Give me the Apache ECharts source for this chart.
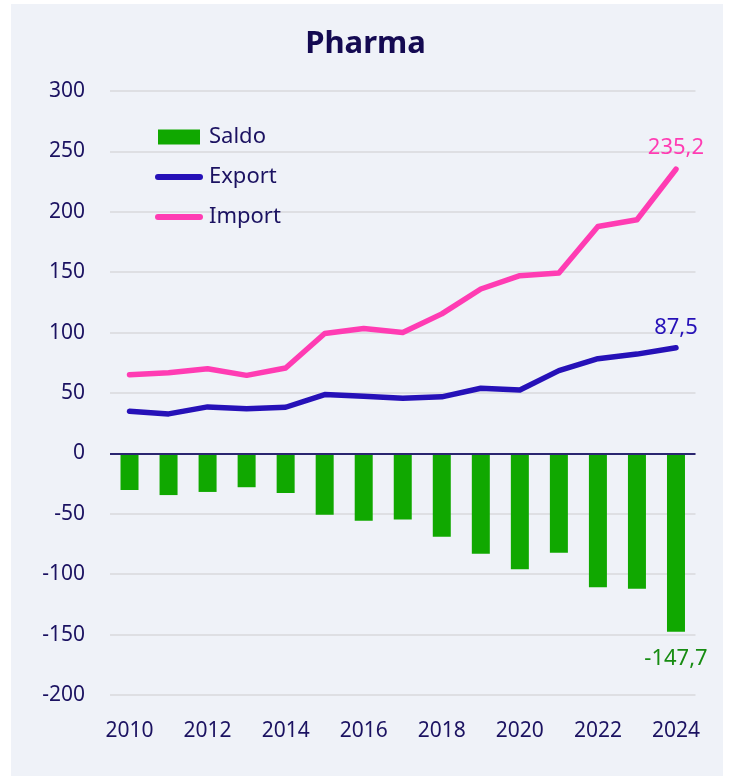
<!DOCTYPE html>
<html>
<head>
<meta charset="utf-8">
<script src="https://cdn.jsdelivr.net/npm/echarts@6/dist/echarts.min.js"></script>
<style>
html,body{margin:0;padding:0;background:#ffffff;}
#chart{width:731px;height:776px;}
</style>
</head>
<body>
<div id="chart"></div>
<script>
const years = ['2010','2011','2012','2013','2014','2015','2016','2017','2018','2019','2020','2021','2022','2023','2024'];
const saldo = [-30.3, -34.5, -31.9, -28.0, -32.8, -50.8, -55.8, -54.7, -68.9, -83.0, -95.8, -82.2, -110.8, -112.0, -147.7];
const exportVals = [34.9, 32.7, 38.5, 36.9, 38.2, 48.7, 47.3, 45.6, 46.8, 53.9, 52.5, 68.5, 78.4, 82.2, 87.5];
const importVals = [65.2, 66.8, 70.1, 64.6, 70.7, 99.3, 103.4, 100.1, 115.5, 136.1, 147.1, 149.3, 187.9, 193.4, 235.2];
const yTicks = {min: -200, max: 300, interval: 50};

const navy = '#1b1261';
const font = 'Noto Sans';
const fmt = v => String(v).replace('.', ',');
const last = years.length - 1;

function endLabel(arr, color, pos, dist) {
  return {
    silent: true,
    symbol: 'circle', symbolSize: 1,
    itemStyle: {color: 'rgba(0,0,0,0)'},
    label: {show: true, position: pos, distance: dist, color: color, fontSize: 22, fontFamily: font,
            formatter: () => fmt(arr[last])},
    data: [{coord: [last, arr[last]], value: arr[last]}]
  };
}

const chart = echarts.init(document.getElementById('chart'), null, {renderer: 'canvas'});
chart.setOption({
  backgroundColor: '#ffffff',
  animation: false,
  textStyle: {fontFamily: font},
  graphic: [{
    type: 'rect', z: -10, silent: true,
    shape: {x: 11, y: 4, width: 712, height: 772},
    style: {fill: '#eff2f8'}
  }],
  title: {
    text: 'Pharma', left: 'center', top: 24,
    textStyle: {color: '#140a52', fontSize: 31, fontWeight: 'bold', fontFamily: font}
  },
  legend: {
    orient: 'vertical', left: 150, top: 121,
    itemWidth: 42, itemHeight: 15, itemGap: 18,
    textStyle: {color: navy, fontSize: 22, fontFamily: font, padding: [0, 0, 0, 4]},
    data: [
      {name: 'Saldo', icon: 'rect'},
      {name: 'Export', itemStyle: {opacity: 0}, lineStyle: {width: 6, cap: 'round'}},
      {name: 'Import', itemStyle: {opacity: 0}, lineStyle: {width: 6, cap: 'round'}}
    ]
  },
  grid: {left: 110, right: 35.5, top: 91, bottom: 81, containLabel: false},
  xAxis: {
    type: 'category', data: years,
    axisLine: {show: false},
    axisTick: {show: false},
    axisLabel: {color: navy, fontSize: 21, fontFamily: font, margin: 26, interval: 1},
    splitLine: {show: false}
  },
  yAxis: {
    type: 'value', min: yTicks.min, max: yTicks.max, interval: yTicks.interval,
    axisLine: {show: false}, axisTick: {show: false},
    axisLabel: {color: navy, fontSize: 21, fontFamily: font, margin: 25},
    splitLine: {lineStyle: {color: '#d8d9dc', width: 1.5}}
  },
  series: [
    {
      name: 'Saldo', type: 'bar', barWidth: 18,
      itemStyle: {color: '#10a800'},
      data: saldo,
      markPoint: endLabel(saldo, '#178c12', 'bottom', 15),
      markLine: {
        silent: true, symbol: 'none', label: {show: false},
        lineStyle: {color: '#2a2670', width: 2, type: 'solid'},
        data: [{yAxis: 0}]
      },
      z: 2
    },
    {
      name: 'Export', type: 'line', symbol: 'none',
      lineStyle: {color: '#2611b8', width: 5.5, cap: 'round', join: 'round'},
      itemStyle: {color: '#2611b8'},
      data: exportVals,
      markPoint: endLabel(exportVals, '#2611b8', 'top', 8),
      z: 3
    },
    {
      name: 'Import', type: 'line', symbol: 'none',
      lineStyle: {color: '#ff3cb3', width: 5.5, cap: 'round', join: 'round'},
      itemStyle: {color: '#ff3cb3'},
      data: importVals,
      markPoint: endLabel(importVals, '#ff3cb3', 'top', 10),
      z: 3
    }
  ]
});
</script>
</body>
</html>
